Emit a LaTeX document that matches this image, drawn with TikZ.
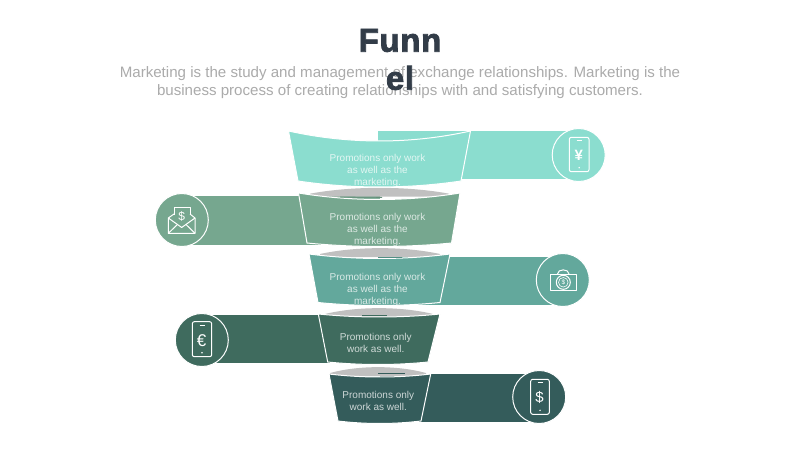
\documentclass[tikz,border=0pt]{standalone}
\usepackage{fontspec}
\setmainfont{Liberation Sans}
\newfontfamily\titlef[UprightFont=* Bold,FakeBold=2.4,LetterSpace=2]{Liberation Sans}
\definecolor{cA}{HTML}{8BDDCF}
\definecolor{cB}{HTML}{76A78F}
\definecolor{cC}{HTML}{63A89C}
\definecolor{cD}{HTML}{3F6B5E}
\definecolor{cE}{HTML}{345C5B}
\definecolor{lens}{HTML}{C0C0C0}
\definecolor{subt}{HTML}{ABABAB}
\definecolor{ttl}{HTML}{323C48}
\tikzset{
  seg/.style={draw=white,line width=1pt,line join=round},
  disc/.style={circle,minimum size=53pt,inner sep=0pt,draw=white,line width=1pt},
  ico/.style={draw=white,line width=1pt,line join=round},
  icotxt/.style={text=white,inner sep=0pt},
  segtxt/.style={text=white,text opacity=0.75,font=\fontsize{10}{12}\selectfont,align=center,inner sep=0pt},
  subtxt/.style={text=subt,font=\fontsize{15.1}{18}\selectfont,align=center,inner sep=0pt},
  ttltxt/.style={text=ttl,font=\titlef\fontsize{33}{38}\selectfont,align=center,inner sep=0pt}
}
\newcommand{\funnelseg}[9]{%
 \fill[seg,fill=#1] (#2,#4) .. controls ({#2+(#3-#2)*0.33},{#4+#5*1.33}) and ({#2+(#3-#2)*0.67},{#4+#5*1.33}) .. (#3,#4)
   -- (#7,#8) .. controls ({#7-(#7-#6)*0.33},{#8+#9*1.33}) and ({#7-(#7-#6)*0.67},{#8+#9*1.33}) .. (#6,#8) -- cycle;}
\newcommand{\lensshape}[3]{%
 \fill[lens] (#1,{#3+6}) .. controls ({#1+(#2-#1)*0.3},{#3-1.8}) and ({#1+(#2-#1)*0.7},{#3-1.8}) .. (#2,{#3+6}) -- (#2,{#3+9}) -- (#1,{#3+9}) -- cycle;}
\newcommand{\phoneicon}[4]{%
 \draw[ico,rounded corners=2pt] (#1,#3) rectangle (#2,#4);
 \draw[ico] ({(#1+#2)/2-2.5},{#3+3.6}) -- ({(#1+#2)/2+2.5},{#3+3.6});
 \fill[white] ({(#1+#2)/2},{#4-4}) circle (0.8);}
\begin{document}
\begin{tikzpicture}[x=1pt,y=-1pt]
\useasboundingbox (0,0) rectangle (800,450);
\fill[white] (0,0) rectangle (800,450);
% heading
\node[subtxt,anchor=center] (sub) at (400,82.5) {Marketing is the study and management of exchange relationships. Marketing is the\\business process of creating relationships with and satisfying customers.};
\node[ttltxt] (ttl) at (400,59.5) {Funn\\el};
% bands
\fill[cA] (378,131) rectangle (579,179);
\fill[cB] (182,196) rectangle (380,245);
\fill[cC] (380,257) rectangle (563,305);
\fill[cD] (202,315) rectangle (380,363);
\fill[cE] (380,373.5) rectangle (539,421.5);
% discs
\node[disc,fill=cA] (d1) at (578.7,155) {};
\node[disc,fill=cB] (d2) at (181.8,220) {};
\node[disc,fill=cC] (d3) at (562.8,280) {};
\node[disc,fill=cD] (d4) at (201.8,340) {};
\node[disc,fill=cE] (d5) at (539.2,397) {};
% grey lenses
\lensshape{310}{449}{187.7}
\lensshape{320}{440}{248}
\lensshape{325}{433}{308}
\lensshape{330}{426}{367}
% segments
\funnelseg{cA}{288.5}{470.5}{131}{10}{298}{461}{181}{6}
\funnelseg{cB}{298.5}{460}{193}{6.5}{307}{451.5}{243}{3.5}
\funnelseg{cC}{309}{450}{254}{4.5}{318}{440}{302.5}{3}
\funnelseg{cD}{318.3}{440}{314}{3}{327.7}{428}{362}{2.5}
\funnelseg{cE}{329}{430.7}{374}{3}{338}{421}{421}{2.5}
% dark ticks
\draw[cB!85!black,line width=0.8pt] (340,197) -- (382,197.4);
\draw[cC!85!black,line width=0.8pt] (378,257) -- (402,257);
\draw[cD,line width=0.8pt] (362,315.5) -- (387,315.5);
\draw[cE,line width=0.8pt] (378,373.6) -- (405,373.6);
% icons: phone with yen
\phoneicon{569.3}{589}{137.3}{171.7}
\node[icotxt,font=\bfseries\fontsize{15}{15}\selectfont] (yen) at (578.7,155.5) {¥};
% envelope
\draw[ico] (174,214.5) -- (174,207.7) -- (190,207.7) -- (190,214.5);
\draw[ico] (174,214) -- (168.3,218) -- (168.3,233.3) -- (195,233.3) -- (195,218) -- (190,214);
\draw[ico] (168.3,218) -- (181.7,227.5) -- (195,218);
\draw[ico] (168.3,233.3) -- (177.5,224.5);
\draw[ico] (195,233.3) -- (186,224.5);
\node[icotxt,font=\fontsize{12}{12}\selectfont] (usd1) at (181.8,216) {\$};
% camera / banknote
\draw[ico] (550,274) rectangle (576.7,290.7);
\draw[ico] (557.5,274) .. controls (557.5,268.5) and (569,268.5) .. (569,274);
\draw[ico] (563.3,282.3) circle (7);
\draw[ico,line width=0.6pt] (563.3,282.3) circle (4.8);
\node[icotxt,font=\fontsize{6.5}{6.5}\selectfont] (usd2) at (563.3,282.3) {\$};
% phone with euro
\phoneicon{192.3}{211.7}{321.7}{356.7}
\node[icotxt,font=\fontsize{17}{17}\selectfont] (eur) at (201.5,340.5) {€};
% phone with dollar
\phoneicon{530.7}{549.3}{379.3}{414.3}
\node[icotxt,font=\fontsize{15}{15}\selectfont] (usd3) at (539.5,397) {\$};
% segment texts
\node[segtxt] (t1) at (377.5,171) {Promotions only work\\as well as the\\marketing.};
\node[segtxt] (t2) at (377.5,230) {Promotions only work\\as well as the\\marketing.};
\node[segtxt] (t3) at (377.5,290) {Promotions only work\\as well as the\\marketing.};
\node[segtxt] (t4) at (375.7,342.5) {Promotions only\\work as well.};
\node[segtxt] (t5) at (378.3,400.7) {Promotions only\\work as well.};
\end{tikzpicture}
\end{document}
